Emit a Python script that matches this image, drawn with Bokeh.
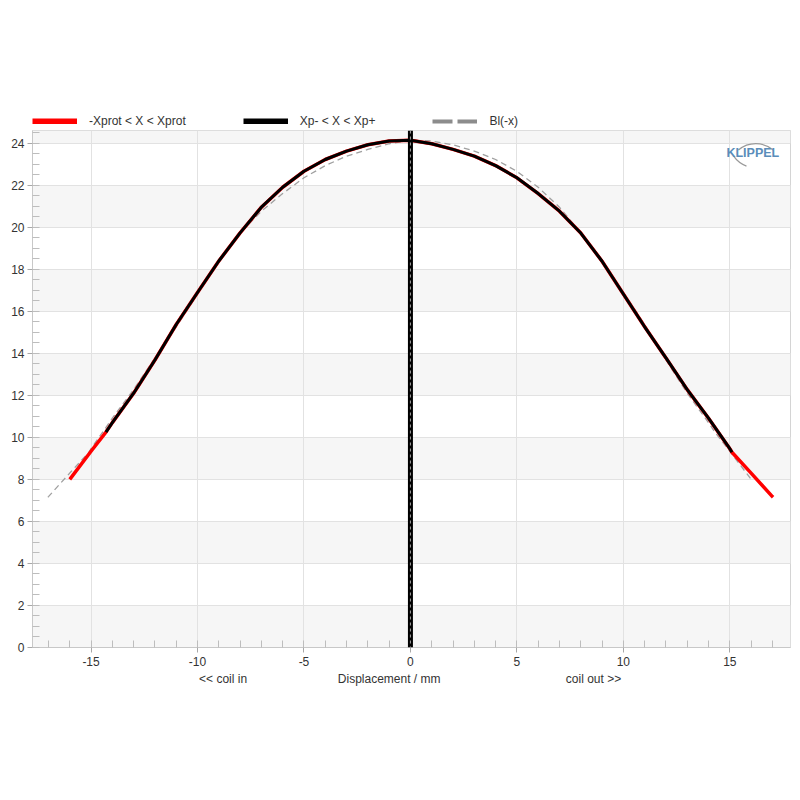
from bokeh.plotting import figure
from bokeh.layouts import column
from bokeh.models import (Range1d, FixedTicker, Legend, LegendItem, Label,
                          BoxAnnotation, Span, LinearAxis)
from bokeh.embed import file_html
from bokeh.resources import INLINE

# ---------------- data ----------------
displacement = [-16, -15, -14.3, -14, -13, -12, -11, -10, -9, -8, -7, -6, -5, -4,
                -3, -2, -1, 0, 1, 2, 3, 4, 5, 6, 7, 8, 9, 10, 11, 12, 13, 14, 15,
                15.1, 16, 17, 17.03]
bl = [8.00, 9.34, 10.25, 10.70, 12.10, 13.68, 15.37, 16.89, 18.39, 19.73, 20.95,
      21.90, 22.66, 23.22, 23.62, 23.92, 24.10, 24.14, 23.97, 23.70, 23.38, 22.93,
      22.35, 21.60, 20.76, 19.72, 18.38, 16.82, 15.26, 13.78, 12.27, 10.91, 9.46,
      9.29, 8.30, 7.18, 7.15]
xp_minus = -14.3
xp_plus = 15.1

x_ticks = [-15, -10, -5, 0, 5, 10, 15]
x_minor = list(range(-17, 18))
y_ticks = list(range(0, 25, 2))
y_minor = [i * 0.5 for i in range(0, 50)]

legend_labels = ["-Xprot < X < Xprot", "Xp- < X < Xp+", "Bl(-x)"]
axis_texts = ["<< coil in", "Displacement / mm", "coil out >>"]
axis_text_pos = [-8.8, -1.0, 8.6]

# derived series
black_x = [x for x in displacement if xp_minus <= x <= xp_plus]
black_y = [y for x, y in zip(displacement, bl) if xp_minus <= x <= xp_plus]
mirror_x = [-x for x in displacement[::-1]]
mirror_y = bl[::-1]

X0, X1 = -17.75, 17.85
Y0, Y1 = 0, 24.6
FONT = "Liberation Sans"
TXT = "#333333"
NAN = float("nan")

# ---------------- legend strip ----------------
lg = figure(width=792, height=128, output_backend="svg", toolbar_location=None,
            x_range=Range1d(0, 1), y_range=Range1d(0, 1), min_border=0,
            x_axis_location=None, y_axis_location=None, outline_line_color=None,
            background_fill_color="white", border_fill_color="white")
lg.grid.visible = False
r1 = lg.line([NAN], [NAN], line_color="#ff0000", line_width=6)
r2 = lg.line([NAN], [NAN], line_color="black", line_width=6)
r3 = lg.line([NAN], [NAN], line_color="#8c8c8c", line_width=4, line_dash="20 5")
leg = Legend(items=[LegendItem(label=l, renderers=[r]) for l, r in
                    zip(legend_labels, [r1, r2, r3])],
             location=(0, 0), orientation="horizontal", glyph_width=45,
             glyph_height=6, label_standoff=12, spacing=57, padding=0, margin=0,
             border_line_alpha=0, background_fill_alpha=0, label_text_font=FONT,
             label_text_font_size="12px", label_text_color=TXT, label_height=14)
lg.add_layout(leg)

# ---------------- main chart ----------------
p = figure(frame_width=758, frame_height=517, output_backend="svg",
           toolbar_location=None, x_range=Range1d(X0, X1), y_range=Range1d(Y0, Y1),
           min_border_left=32, min_border_right=2, min_border_top=2,
           min_border_bottom=40, background_fill_color="white",
           border_fill_color="white", outline_line_color="#d4d4d4")

# background bands
for b in y_ticks[::2]:
    p.add_layout(BoxAnnotation(bottom=b, top=min(b + 2, Y1), fill_color="#f6f6f6",
                               fill_alpha=1, line_alpha=0, level="image"))

p.xgrid.ticker = FixedTicker(ticks=x_ticks)
p.ygrid.ticker = FixedTicker(ticks=y_ticks)
p.grid.grid_line_color = "#e2e2e2"
p.grid.grid_line_width = 1

p.xaxis.ticker = FixedTicker(ticks=x_ticks, minor_ticks=x_minor)
p.yaxis.ticker = FixedTicker(ticks=y_ticks, minor_ticks=y_minor)
p.xaxis.major_label_overrides = {t: str(t) for t in x_ticks}
p.yaxis.major_label_overrides = {t: str(t) for t in y_ticks}
for ax in (p.xaxis, p.yaxis):
    ax.axis_line_color = "#c8c8c8"
    ax.major_tick_line_color = "#a8a8a8"
    ax.minor_tick_line_color = "#bdbdbd"
    ax.major_tick_in = 0
    ax.major_tick_out = 5
    ax.minor_tick_in = 7
    ax.minor_tick_out = 0
    ax.major_label_text_font = FONT
    ax.major_label_text_font_size = "12px"
    ax.major_label_text_color = TXT
p.yaxis.major_label_standoff = 3
p.xaxis.major_label_standoff = 4

# second bottom axis that carries the three axis texts
ax2 = LinearAxis(ticker=FixedTicker(ticks=axis_text_pos, minor_ticks=[]),
                 major_label_overrides=dict(zip(axis_text_pos, axis_texts)),
                 axis_line_alpha=0, major_tick_line_alpha=0, minor_tick_line_alpha=0,
                 major_tick_out=0, major_tick_in=0, major_label_standoff=3,
                 major_label_text_font=FONT, major_label_text_font_size="12px",
                 major_label_text_color=TXT)
p.add_layout(ax2, "below")

# curves
p.line(mirror_x, mirror_y, line_color="#a0a0a0", line_width=1.3, line_dash="6 4")
p.line(displacement, bl, line_color="#ff0000", line_width=3.5)
p.line(black_x, black_y, line_color="black", line_width=3)

# vertical line at zero
p.add_layout(Span(location=0, dimension="height", line_color="black", line_width=5))
p.add_layout(Span(location=0, dimension="height", line_color="#a0a0a0", line_width=1,
                  line_dash="3 3"))

# KLIPPEL logo
p.add_layout(Label(x=16.08, y=23.55, text="KLIPPEL", text_align="center",
                   text_baseline="middle", text_font=FONT, text_font_style="bold",
                   text_font_size="12.5px", text_color="#5a8dba"))
p.arc(x=[16.22], y=[22.69], radius=27, radius_units="screen",
      start_angle=0.87, end_angle=2.27, line_color="#9a9a9a", line_width=1.3)
p.arc(x=[16.22], y=[24.11], radius=27, radius_units="screen",
      start_angle=3.75, end_angle=4.36, line_color="#9a9a9a", line_width=1.3)

layout = column(lg, p, spacing=0)
open("out.html", "w").write(file_html(layout, INLINE))
